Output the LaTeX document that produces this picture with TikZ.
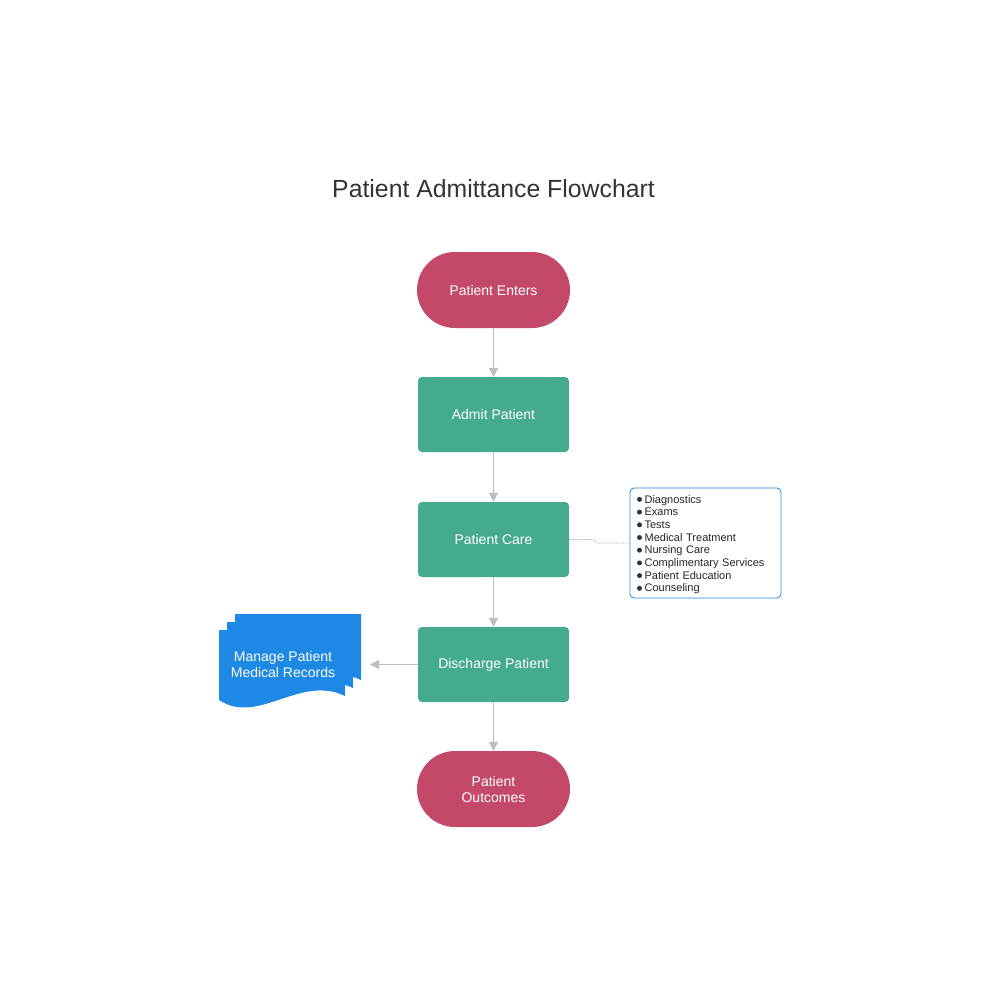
\documentclass[tikz,border=0pt]{standalone}
\usepackage{fontspec}
\setmainfont{Liberation Sans}
\usetikzlibrary{arrows.meta}
\definecolor{termred}{RGB}{196,73,104}
\definecolor{stepgreen}{RGB}{68,171,142}
\definecolor{docblue}{RGB}{30,136,229}
\definecolor{linegray}{RGB}{189,189,189}
\definecolor{titlegray}{RGB}{51,51,51}
\newcommand{\notedot}{\raisebox{0.2ex}{\tikz\fill[black!80] (0,0) circle (2.5pt);}\hspace{2.6pt}}

\begin{document}
\begin{tikzpicture}[x=1pt,y=-1pt,
  term/.style={fill=termred,text=white,rounded corners=38pt,minimum width=153pt,minimum height=76pt,align=center,font=\fontsize{14}{16}\selectfont},
  proc/.style={fill=stepgreen,text=white,rounded corners=4pt,minimum width=151pt,minimum height=75pt,align=center,font=\fontsize{14}{16}\selectfont},
  doctext/.style={text=white,align=center,font=\fontsize{14}{16}\selectfont},
  notebox/.style={draw=docblue,fill=white,line width=0.8pt,rounded corners=4pt,minimum width=151pt,minimum height=110pt,text width=137pt,inner xsep=7pt,align=left,text=black!85,font=\fontsize{11}{12.7}\selectfont},
  flow/.style={draw=linegray,line width=1pt,-{Triangle[length=9pt,width=9pt]}},
  noteline/.style={draw=linegray,line width=0.7pt,dash pattern=on 2pt off 1pt}]
  \def\cx{493.5};
  \def\dw{126};
  \fill[white] (0,0) rectangle (1000,1000);
  \useasboundingbox (0,0) rectangle (1000,1000);
  \node[text=titlegray,font=\fontsize{24.8}{28}\selectfont] (title) at (\cx,189) {Patient Admittance Flowchart};
  \node[term] (enters) at (\cx,290) {Patient Enters};
  \node[proc] (admit) at (\cx,414.5) {Admit Patient};
  \node[proc] (care) at (\cx,539.5) {Patient Care};
  \node[proc] (discharge) at (\cx,664.5) {Discharge Patient};
  \node[term] (outcomes) at (\cx,789) {Patient\\Outcomes};
  \draw[flow] (enters) -- (admit);
  \draw[flow] (admit) -- (care);
  \draw[flow] (care) -- (discharge);
  \draw[flow] (discharge) -- (outcomes);
  %records
  \foreach \d in {16,8,0}
    \fill[docblue] (219+\d,630-\d) -- ++(\dw,0) -- (219+\dw+\d,696-\d)
      .. controls (300+\d,674-\d) and (258+\d,726-\d) .. (219+\d,700-\d) -- cycle;
  \node[doctext] (records) at (283,664) {Manage Patient\\Medical Records};
  \coordinate (recordsIn) at (370,664.5);
  \draw[flow] (discharge.west) -- (recordsIn);
  %notes
  \node[notebox] (note) at (705.5,543) {\rule{0pt}{11.3pt}\notedot Diagnostics\\\notedot Exams\\\notedot Tests\\\notedot Medical Treatment\\\notedot Nursing Care\\\notedot Complimentary Services\\\notedot Patient Education\\\notedot Counseling};
  \draw[noteline] (care.east) -- ++(24,0) -- ++(4,3.5) -- (note.west);
\end{tikzpicture}
\end{document}
